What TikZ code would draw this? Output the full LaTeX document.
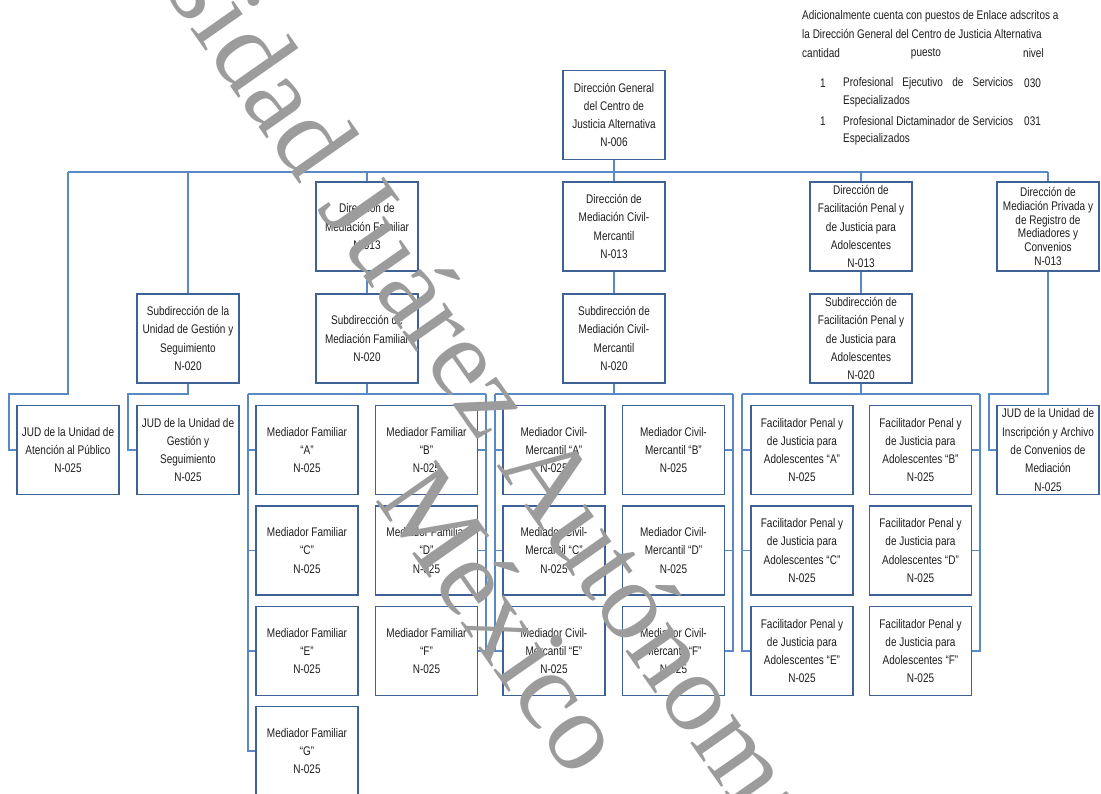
\documentclass[tikz,border=0pt]{standalone}
\usepackage{fontspec}
\setmainfont{Liberation Sans}[FakeStretch=0.8]
\newfontfamily\wmfont{Liberation Serif}
\definecolor{boxblue}{HTML}{3F6296}
\definecolor{linkblue}{HTML}{5A8AC6}
\definecolor{txt}{HTML}{1E1E1E}
\definecolor{wm}{HTML}{9C9C9C}
\begin{document}
\begin{tikzpicture}[x=1pt,y=-1pt,
  box/.style={draw=boxblue, line width=1.6pt, fill=white, minimum width=102pt, minimum height=89pt,
    inner sep=0pt, align=center, text=txt, font=\fontsize{12.5}{18.3}\selectfont},
  tightbox/.style={box, font=\fontsize{12.5}{13.8}\selectfont},
  link/.style={draw=linkblue, line width=1.2pt},
  note/.style={anchor=west, inner sep=0pt, text=txt, font=\fontsize{12.5}{15}\selectfont},
  wmark/.style={inner sep=0pt, color=wm, rotate=-55, font=\wmfont\fontsize{112}{112}\selectfont}]
\useasboundingbox (0,0) rectangle (1101,793);
\clip (0,0) rectangle (1101,793);
\fill[white] (0,0) rectangle (1101,793);

% ---- top level
\node[box] (DG) at (614,115) {Dirección General\\del Centro de\\Justicia Alternativa\\N-006};

% ---- directions
\node[box] (DFam) at (367,226.5) {Dirección de\\Mediación Familiar\\N-013};
\node[box] (DCiv) at (614,226.5) {Dirección de\\Mediación Civil-\\Mercantil\\N-013};
\node[box] (DFac) at (861,226.5) {Dirección de\\Facilitación Penal y\\de Justicia para\\Adolescentes\\N-013};
\node[tightbox] (DPriv) at (1048,226.5) {Dirección de\\Mediación Privada y\\de Registro de\\Mediadores y\\Convenios\\N-013};

% ---- subdirections
\node[box] (SGes) at (188,338.5) {Subdirección de la\\Unidad de Gestión y\\Seguimiento\\N-020};
\node[box] (SFam) at (367,338.5) {Subdirección de\\Mediación Familiar\\N-020};
\node[box] (SCiv) at (614,338.5) {Subdirección de\\Mediación Civil-\\Mercantil\\N-020};
\node[box] (SFac) at (861,338.5) {Subdirección de\\Facilitación Penal y\\de Justicia para\\Adolescentes\\N-020};

% ---- JUDs
\node[box] (JA) at (68,450) {JUD de la Unidad de\\Atención al Público\\N-025};
\node[box] (JG) at (188,450) {JUD de la Unidad de\\Gestión y\\Seguimiento\\N-025};
\node[box] (JI) at (1048,450) {JUD de la Unidad de\\Inscripción y Archivo\\de Convenios de\\Mediación\\N-025};

% ---- Mediador Familiar
\node[box] (FA) at (307,450) {Mediador Familiar\\“A”\\N-025};
\node[box] (FB) at (426.5,450) {Mediador Familiar\\“B”\\N-025};
\node[box] (FC) at (307,550.5) {Mediador Familiar\\“C”\\N-025};
\node[box] (FD) at (426.5,550.5) {Mediador Familiar\\“D”\\N-025};
\node[box] (FE) at (307,651) {Mediador Familiar\\“E”\\N-025};
\node[box] (FF) at (426.5,651) {Mediador Familiar\\“F”\\N-025};
\node[box] (FG) at (307,751) {Mediador Familiar\\“G”\\N-025};

% ---- Mediador Civil-Mercantil
\node[box] (CA) at (554,450) {Mediador Civil-\\Mercantil “A”\\N-025};
\node[box] (CB) at (673.5,450) {Mediador Civil-\\Mercantil “B”\\N-025};
\node[box] (CC) at (554,550.5) {Mediador Civil-\\Mercantil “C”\\N-025};
\node[box] (CD) at (673.5,550.5) {Mediador Civil-\\Mercantil “D”\\N-025};
\node[box] (CE) at (554,651) {Mediador Civil-\\Mercantil “E”\\N-025};
\node[box] (CF) at (673.5,651) {Mediador Civil-\\Mercantil “F”\\N-025};

% ---- Facilitador
\node[box] (PA) at (802,450) {Facilitador Penal y\\de Justicia para\\Adolescentes “A”\\N-025};
\node[box] (PB) at (920.5,450) {Facilitador Penal y\\de Justicia para\\Adolescentes “B”\\N-025};
\node[box] (PC) at (802,550.5) {Facilitador Penal y\\de Justicia para\\Adolescentes “C”\\N-025};
\node[box] (PD) at (920.5,550.5) {Facilitador Penal y\\de Justicia para\\Adolescentes “D”\\N-025};
\node[box] (PE) at (802,651) {Facilitador Penal y\\de Justicia para\\Adolescentes “E”\\N-025};
\node[box] (PF) at (920.5,651) {Facilitador Penal y\\de Justicia para\\Adolescentes “F”\\N-025};

% ---- bus coordinates
\coordinate (busL) at (68,172);
\coordinate (busR) at (1048,172);
\coordinate (busDG) at (614,172);
\coordinate (busG) at (188,172);
\coordinate (busFam) at (367,172);
\coordinate (busFac) at (861,172);
\coordinate (ja) at (9,394);
\coordinate (jg) at (128,394);
\coordinate (ji) at (989,394);
\coordinate (famL) at (248,394);
\coordinate (famR) at (486,394);
\coordinate (famM) at (367,394);
\coordinate (civL) at (495,394);
\coordinate (civR) at (733,394);
\coordinate (civM) at (614,394);
\coordinate (facL) at (742,394);
\coordinate (facR) at (980,394);
\coordinate (facM) at (861,394);

% ---- connectors
\begin{scope}[link]
\draw (DG.south) -- (busDG);
\draw (busL) -- (busR);
\draw (busL) |- (ja) |- (JA.west);
\draw (busG) -- (SGes.north);
\draw (SGes.south) |- (jg) |- (JG.west);
\draw (busFam) -- (DFam.north);
\draw (DFam.south) -- (SFam.north);
\draw (SFam.south) -- (famM);
\draw (DCiv.north) -- (busDG);
\draw (DCiv.south) -- (SCiv.north);
\draw (SCiv.south) -- (civM);
\draw (busFac) -- (DFac.north);
\draw (DFac.south) -- (SFac.north);
\draw (SFac.south) -- (facM);
\draw (busR) -- (DPriv.north);
\draw (DPriv.south) |- (ji) |- (JI.west);
% familiar
\draw (famL) -- (famR);
\draw (famL) |- (FA.west);
\draw (famL) |- (FC.west);
\draw (famL) |- (FE.west);
\draw (famL) |- (FG.west);
\draw (famR) |- (FB.east);
\draw (famR) |- (FD.east);
\draw (famR) |- (FF.east);
% civil
\draw (civL) -- (civR);
\draw (civL) |- (CA.west);
\draw (civL) |- (CC.west);
\draw (civL) |- (CE.west);
\draw (civR) |- (CB.east);
\draw (civR) |- (CD.east);
\draw (civR) |- (CF.east);
% facilitador
\draw (facL) -- (facR);
\draw (facL) |- (PA.west);
\draw (facL) |- (PC.west);
\draw (facL) |- (PE.west);
\draw (facR) |- (PB.east);
\draw (facR) |- (PD.east);
\draw (facR) |- (PF.east);
\end{scope}

% ---- note, top right
\node[note] (n1) at (802,16) {Adicionalmente cuenta con puestos de Enlace adscritos a};
\node[note] (n2) at (802,34) {la Dirección General del Centro de Justicia Alternativa};
\node[note] (h1) at (802,53) {cantidad};
\node[note, anchor=center] (h2) at (926,54) {puesto};
\node[note] (h3) at (1023,53) {nivel};
\node[note] (r1a) at (820,83) {1};
\node[note] (r1b) at (843,83) {\makebox[170pt][s]{Profesional Ejecutivo de Servicios}};
\node[note] (r1c) at (1024,83) {030};
\node[note] (r1d) at (843,101) {Especializados};
\node[note] (r2a) at (820,121) {1};
\node[note] (r2b) at (843,121) {\makebox[170pt][s]{Profesional Dictaminador de Servicios}};
\node[note] (r2c) at (1024,121) {031};
\node[note] (r2d) at (843,139) {Especializados};

% ---- watermark
\begin{scope}[blend group=multiply]
\node[wmark, anchor=base west] (w1) at (-14,-263) {Universidad Juárez Autónoma};
\node[wmark, anchor=base] (w2) at (473,640) {México};
\end{scope}
\end{tikzpicture}
\end{document}
